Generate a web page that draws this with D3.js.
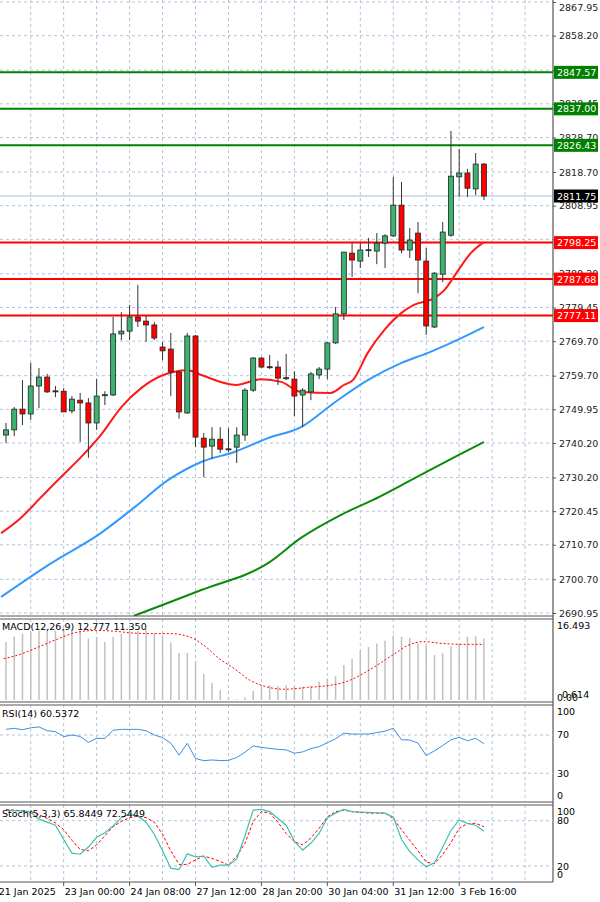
<!DOCTYPE html>
<html><head><meta charset="utf-8">
<script src="https://cdn.jsdelivr.net/npm/d3@7"></script>
<style>body{margin:0;background:#fff}svg{display:block;font-family:"DejaVu Sans",sans-serif}</style>
</head><body><svg id="c" width="600" height="902"></svg>
<script>
// OHLC per 4H candle
const opens  = [2742.5,2744.0,2750.0,2748.6,2756.7,2759.3,2755.3,2755.2,2749.5,2752.6,2751.8,2746.0,2753.9,2754.1,2771.8,2772.6,2776.7,2775.5,2774.4,2768.0,2767.4,2760.8,2748.9,2771.2,2741.6,2739.3,2741.3,2738.5,2739.0,2742.5,2755.5,2764.8,2762.3,2762.2,2759.1,2758.7,2754.1,2755.0,2759.9,2761.6,2769.2,2777.6,2795.2,2792.9,2796.0,2795.8,2798.1,2800.2,2809.1,2796.1,2801.0,2792.9,2773.8,2789.1,2800.4,2817.3,2818.4,2813.8,2821.0];
const highs  = [2746.0,2750.6,2758.4,2763.4,2761.9,2760.2,2756.7,2756.1,2753.8,2754.7,2753.2,2758.7,2755.2,2776.7,2778.1,2780.2,2786.0,2777.0,2775.2,2769.5,2772.1,2760.8,2772.1,2771.5,2743.1,2744.8,2744.8,2744.5,2744.8,2756.1,2765.1,2765.1,2765.7,2764.0,2766.0,2761.0,2756.1,2760.8,2762.2,2769.5,2779.6,2795.5,2798.1,2798.1,2799.6,2801.0,2800.7,2817.3,2815.8,2802.5,2804.2,2796.7,2789.7,2804.2,2830.6,2825.4,2819.6,2824.2,2821.3];
const lows   = [2740.2,2742.2,2745.4,2746.9,2750.3,2754.7,2753.5,2749.2,2748.8,2740.5,2735.9,2744.0,2751.2,2753.8,2770.0,2770.0,2773.8,2769.5,2770.0,2764.2,2753.8,2747.2,2748.6,2739.0,2730.3,2735.6,2737.3,2737.6,2734.4,2740.8,2755.0,2761.9,2761.6,2757.0,2758.4,2748.0,2744.8,2752.6,2758.7,2758.7,2768.9,2775.8,2788.3,2790.9,2794.1,2792.0,2790.9,2799.9,2795.2,2793.8,2783.6,2771.5,2773.5,2786.8,2799.9,2811.5,2811.5,2812.0,2810.6];
const closes = [2744.0,2750.0,2748.6,2756.7,2759.3,2755.0,2755.2,2749.2,2752.9,2751.8,2746.0,2753.8,2754.2,2771.8,2772.6,2776.7,2775.5,2774.4,2770.6,2766.9,2760.8,2749.2,2771.2,2741.9,2739.0,2741.3,2738.4,2738.3,2742.5,2755.5,2764.8,2762.2,2762.1,2759.0,2758.9,2753.8,2755.5,2760.2,2761.6,2769.2,2777.6,2795.5,2793.2,2796.1,2796.2,2798.1,2800.2,2809.1,2796.1,2799.0,2793.2,2774.1,2789.4,2801.3,2817.5,2818.4,2814.0,2821.0,2811.75];
// moving averages [candle index, price]
const maFast = [[-0.6,2714.1],[1.8,2718.5],[4.25,2724.5],[6.7,2730.4],[9.1,2736.1],[11.5,2742.5],[14,2750.6],[16.4,2756.1],[18.8,2759.6],[22.1,2761.3],[23.7,2759.9],[27.9,2757.0],[31,2758.7],[33.4,2757.9],[35.8,2755.0],[39.4,2754.7],[41,2757.0],[42.1,2758.4],[43.9,2766.3],[45.9,2772.9],[48,2777.9],[49.5,2780.2],[52,2782.2],[53.2,2784.5],[54.9,2790.3],[56.4,2795.2],[58,2798.4]];
const maMid = [[-0.6,2695.6],[5.5,2705.4],[11.5,2714.1],[15.5,2721.4],[19.7,2729.5],[23.7,2734.7],[27.7,2737.6],[31.8,2741.6],[35.8,2744.8],[39.8,2751.8],[43.9,2758.4],[48,2763.4],[51.2,2766.3],[54,2769.2],[58,2773.8]];
const maSlow = [[15.5,2690.1],[23.7,2697.6],[31.8,2705.4],[35.8,2712.7],[40.6,2719.3],[45.3,2724.6],[49.2,2729.5],[54.9,2736.7],[58,2740.5]];
const resistLevels = [2847.57,2837.00,2826.43];
const supportLevels = [2798.25,2787.68,2777.11];
const lastPrice = 2811.75;
const priceTicks = [2867.95,2858.20,2848.20,2838.45,2828.70,2818.70,2808.95,2799.20,2789.20,2779.45,2769.70,2759.70,2749.95,2740.20,2730.20,2720.45,2710.70,2700.70,2690.95];
const hiddenTickLabels = [2848.20,2799.20];
const macdHist = [12.9,14.1,14.8,15.2,15.5,15.7,15.5,15.9,15.7,15.4,13.7,14.1,12.9,14.1,14.8,15.5,15.4,15.8,14.8,14.4,12.8,10.5,10.5,8.5,5.8,3.8,2.2,0.6,0.15,0.6,2.0,3.0,3.3,3.1,3.3,3.1,3.0,3.1,4.1,4.8,5.3,7.8,9.2,11.1,11.8,12.6,13.2,14.4,14.1,13.9,12.6,12.2,10.0,10.4,12.0,12.6,14.1,14.2,13.7];
const macdSignal = [[-0.27,9.2],[2.07,10.4],[3.94,11.8],[6.27,13.6],[8.6,15.1],[10.9,15.5],[13.3,15.3],[15.6,14.9],[17.9,14.8],[19.8,14.8],[22.2,14.1],[24,12.2],[25.9,9.2],[27.7,7.0],[29.6,4.4],[31.5,3.0],[33.8,2.4],[36.6,2.8],[39.4,3.3],[41.3,4.1],[44.1,6.7],[46.9,10.0],[48.8,12.2],[50.6,13.0],[53,12.6],[55.3,12.4],[58,12.4]];
const rsi = [76,77,75.5,77.5,78.5,74.5,73.5,68.3,70,68.5,62.3,66.5,66.5,75,75.9,75.9,75.9,74.5,70,67.3,61.5,49,61.3,45.5,43.2,43.9,43.3,43.5,46.5,52,58.5,57.1,56,55,54.5,51,52.3,55.8,57.8,62,66,72,71,71,71,72.5,74,77,65,64.8,61.5,48.5,53.5,59,65,67.6,64,66.5,61];
const stochK = [94,93,93,91,82,78,74,55,37,35.5,45,58,64,73,84,89,86,78,62,40,17,15,36,32,33,18,21,21,29,60,94,95,92,83,74,53,41,50,63,84,90,95,92,91.5,91,90.5,90,85,55,39,28,19,24,45,67,81,76.5,74,66];
const stochD = [95,94,93,92,88,83,77,68,54,42,40,48,60,72,79,84,86,84,78,62,40,22,22,28,33,30,26,21,33,50,79,92,90,78,63,52,48,57,70,85,92,94,92,91,90,90,90,83,68,54,40,25,23,35,51,70,76,76.5,72];
const timeLabels = [[-1,"21 Jan 2025"],[7,"23 Jan 00:00"],[15,"24 Jan 08:00"],[23,"27 Jan 12:00"],[31,"28 Jan 20:00"],[39,"30 Jan 04:00"],[47,"31 Jan 12:00"],[55,"3 Feb 16:00"]];

const svg = d3.select("#c");
const AX = 553;
const x = d3.scaleLinear().domain([0,58]).range([6,6+58*8.24]);
const y = d3.scaleLinear().domain([2690.95,2867.95]).range([613,2]);
const gridCol = "#b4c4dc";
const fs = 9.5;

const vg = d3.range(3,64,4);
[[0,616],[619,702],[705,802],[805,882]].forEach(([t,b])=>{
  svg.append("g").selectAll("line").data(vg).join("line")
    .attr("x1",d=>x(d)).attr("x2",d=>x(d)).attr("y1",t).attr("y2",b)
    .attr("stroke",gridCol).attr("stroke-dasharray","3,3").attr("stroke-width",1);
});
svg.append("g").selectAll("line").data(priceTicks).join("line")
  .attr("x1",0).attr("x2",AX).attr("y1",d=>y(d)).attr("y2",d=>y(d))
  .attr("stroke",gridCol).attr("stroke-dasharray","3,3");

const main = svg.append("g").attr("clip-path","url(#clipMain)");
svg.append("clipPath").attr("id","clipMain").append("rect").attr("x",0).attr("y",0).attr("width",AX).attr("height",616);

main.append("line").attr("x1",0).attr("x2",AX).attr("y1",y(lastPrice)).attr("y2",y(lastPrice)).attr("stroke","#c6d2e6").attr("stroke-width",1.5);
resistLevels.forEach(v=>main.append("line").attr("x1",0).attr("x2",AX).attr("y1",y(v)).attr("y2",y(v)).attr("stroke","#008000").attr("stroke-width",2));
supportLevels.forEach(v=>main.append("line").attr("x1",0).attr("x2",AX).attr("y1",y(v)).attr("y2",y(v)).attr("stroke","#ff0000").attr("stroke-width",2));

const ln = d3.line().x(d=>x(d[0])).y(d=>y(d[1])).curve(d3.curveMonotoneX);
main.append("path").attr("d",ln(maSlow)).attr("fill","none").attr("stroke","#0a8a0a").attr("stroke-width",2);
main.append("path").attr("d",ln(maMid)).attr("fill","none").attr("stroke","#3399ff").attr("stroke-width",2);
main.append("path").attr("d",ln(maFast)).attr("fill","none").attr("stroke","#ff1a1a").attr("stroke-width",2);

const idx = d3.range(opens.length);
main.append("g").selectAll("line").data(idx).join("line")
  .attr("x1",i=>x(i)).attr("x2",i=>x(i)).attr("y1",i=>y(highs[i])).attr("y2",i=>y(lows[i]))
  .attr("stroke","#333").attr("stroke-width",1);
main.append("g").selectAll("rect").data(idx).join("rect")
  .attr("x",i=>x(i)-2.5).attr("width",5)
  .attr("y",i=>y(Math.max(opens[i],closes[i])))
  .attr("height",i=>Math.max(1,Math.abs(y(opens[i])-y(closes[i]))))
  .attr("fill",i=>closes[i]>=opens[i]?"#3cb371":"#ff0000")
  .attr("stroke","#222").attr("stroke-width",0.8);

svg.append("line").attr("x1",AX).attr("x2",AX).attr("y1",0).attr("y2",882).attr("stroke","#555").attr("stroke-width",1.2);
svg.append("g").attr("transform",`translate(${AX},0)`).call(d3.axisRight(y).tickValues(priceTicks).tickSize(3).tickFormat(d=>hiddenTickLabels.includes(d)?"":d3.format(".2f")(d)))
  .call(g=>{g.select(".domain").remove();g.selectAll("text").attr("font-size",fs).attr("fill","#222").attr("font-family","DejaVu Sans");g.selectAll("line").attr("stroke","#555");
    g.selectAll(".tick").filter(d=>d===2867.95).select("text").attr("dy","0.9em");});

function levelLabel(v,bg,fg){
  const g=svg.append("g");
  g.append("rect").attr("x",AX+1).attr("y",y(v)-6.5).attr("width",44).attr("height",13).attr("fill",bg);
  g.append("text").attr("x",AX+4).attr("y",y(v)+3.5).attr("font-size",fs).attr("fill",fg).text(v.toFixed(2));
}
resistLevels.forEach(v=>levelLabel(v,"#008000","#fff"));
supportLevels.forEach(v=>levelLabel(v,"#ff0000","#fff"));
levelLabel(lastPrice,"#000","#fff");

[[616,619],[702,705],[802,805]].forEach(([a,b])=>{
  svg.append("line").attr("x1",0).attr("x2",AX).attr("y1",a).attr("y2",a).attr("stroke","#555");
  svg.append("line").attr("x1",0).attr("x2",AX).attr("y1",b).attr("y2",b).attr("stroke","#555");
});
svg.append("line").attr("x1",0).attr("x2",AX).attr("y1",882).attr("y2",882).attr("stroke","#555");

const ym = d3.scaleLinear().domain([0,16.493]).range([700,626]);
svg.append("g").selectAll("line").data(idx).join("line")
  .attr("x1",i=>x(i)).attr("x2",i=>x(i)).attr("y1",ym(0)).attr("y2",i=>ym(macdHist[i]))
  .attr("stroke","#c0c0c0").attr("stroke-width",1.5);
svg.append("path").attr("d",d3.line().x(d=>x(d[0])).y(d=>ym(d[1])).curve(d3.curveMonotoneX)(macdSignal))
  .attr("fill","none").attr("stroke","#ff0000").attr("stroke-width",1).attr("stroke-dasharray","2,2");
svg.append("text").attr("x",2).attr("y",630).attr("font-size",fs).text("MACD(12,26,9) 12.777 11.350");
svg.append("text").attr("x",AX+4).attr("y",629).attr("font-size",fs).text("16.493");
svg.append("text").attr("x",AX+4).attr("y",701).attr("font-size",fs).text("0.00");
svg.append("text").attr("x",AX+9).attr("y",698).attr("font-size",fs).text("0.614");

const yr = d3.scaleLinear().domain([0,100]).range([802,706.3]);
[70,30].forEach(v=>svg.append("line").attr("x1",0).attr("x2",AX).attr("y1",yr(v)).attr("y2",yr(v)).attr("stroke",gridCol).attr("stroke-dasharray","3,3"));
svg.append("path").attr("d",d3.line().x((d,i)=>x(i)).y(d=>yr(d))(rsi)).attr("fill","none").attr("stroke","#3d8fe0").attr("stroke-width",1);
svg.append("text").attr("x",2).attr("y",717).attr("font-size",fs).text("RSI(14) 60.5372");
[[100,715],[70,738],[30,777],[0,799]].forEach(([v,yy])=>svg.append("text").attr("x",AX+4).attr("y",yy).attr("font-size",fs).text(v));

const ys = d3.scaleLinear().domain([0,100]).range([881,805.6]);
[80,20].forEach(v=>svg.append("line").attr("x1",0).attr("x2",AX).attr("y1",ys(v)).attr("y2",ys(v)).attr("stroke",gridCol).attr("stroke-dasharray","3,3"));
svg.append("path").attr("d",d3.line().x((d,i)=>x(i)).y(d=>ys(d))(stochD)).attr("fill","none").attr("stroke","#ff0000").attr("stroke-dasharray","3,2").attr("stroke-width",1);
svg.append("path").attr("d",d3.line().x((d,i)=>x(i)).y(d=>ys(d))(stochK)).attr("fill","none").attr("stroke","#40c0b0").attr("stroke-width",1.2);
svg.append("text").attr("x",2).attr("y",817).attr("font-size",fs).text("Stoch(5,3,3) 65.8449 72.5449");
[[100,815],[80,824],[20,870],[0,878]].forEach(([v,yy])=>svg.append("text").attr("x",AX+4).attr("y",yy).attr("font-size",fs).text(v));

svg.append("g").selectAll("line").data(timeLabels).join("line")
  .attr("x1",d=>x(d[0])).attr("x2",d=>x(d[0])).attr("y1",882).attr("y2",886).attr("stroke","#555");
svg.append("g").selectAll("text").data(timeLabels).join("text")
  .attr("x",d=>x(d[0])+1).attr("y",895).attr("font-size",fs).text(d=>d[1]);
</script></body></html>
